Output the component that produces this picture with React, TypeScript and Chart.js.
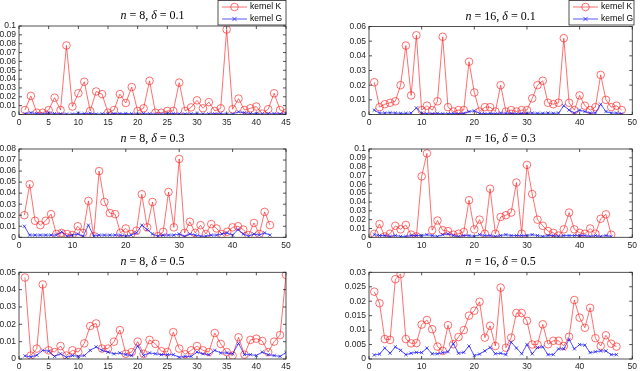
import React, { useEffect, useRef } from 'react';
import { Chart, registerables } from 'chart.js';
Chart.register(...registerables);

// ---- data ----
const kernelK_n8_d01 = [0.005,0.021,0.002,0.002,0.005,0.019,0.005,0.078,0.009,0.024,0.037,0.004,0.026,0.023,0.002,0.005,0.023,0.013,0.031,0.004,0.007,0.038,0.002,0.002,0.004,0.004,0.036,0.004,0.008,0.016,0.007,0.014,0.004,0.007,0.096,0.006,0.018,0.005,0.007,0.009,0.001,0.006,0.024,0.005,0.002];
const kernelG_n8_d01 = [0.001,0.002,0.001,0.0005,0.002,0.001,0.0008,0.0005,0.0005,0.0015,0.001,0.0015,0.0005,0.0008,0.0005,0.001,0.001,0.0012,0.0008,0.0005,0.001,0.0008,0.0005,0.0005,0.001,0.001,0.0008,0.0005,0.0008,0.001,0.0005,0.0008,0.0008,0.001,0.0005,0.0005,0.003,0.002,0.001,0.001,0.0005,0.0008,0.001,0.0008,0.0005];

const kernelK_n16_d01 = [0.022,0.005,0.007,0.008,0.009,0.020,0.047,0.013,0.054,0.003,0.006,0.003,0.009,0.053,0.005,0.002,0.003,0.003,0.036,0.015,0.002,0.005,0.005,0.002,0.020,0.002,0.003,0.002,0.003,0.003,0.011,0.020,0.023,0.008,0.007,0.008,0.052,0.008,0.003,0.013,0.006,0.003,0.005,0.027,0.010,0.005,0.006,0.003];
const kernelG_n16_d01 = [0.003,0.001,0.001,0.0012,0.001,0.0008,0.0008,0.001,0.0045,0.0008,0.0005,0.0005,0.0008,0.0005,0.0005,0.0008,0.0005,0.0008,0.002,0.0025,0.0008,0.0005,0.0008,0.0005,0.001,0.0008,0.0008,0.0005,0.0008,0.0008,0.001,0.0008,0.0008,0.001,0.0008,0.001,0.006,0.003,0.001,0.003,0.002,0.001,0.001,0.007,0.002,0.001,0.001,0.0005];

const kernelK_n8_d03 = [0.020,0.048,0.015,0.011,0.015,0.021,0.003,0.004,0.003,0.002,0.010,0.004,0.033,0.001,0.060,0.032,0.022,0.021,0.004,0.008,0.003,0.006,0.039,0.009,0.032,0.001,0.005,0.041,0.009,0.071,0.004,0.014,0.004,0.011,0.003,0.012,0.008,0.003,0.005,0.009,0.010,0.007,0.002,0.013,0.003,0.023,0.011];
const kernelG_n8_d03 = [0.010,0.002,0.002,0.002,0.002,0.002,0.002,0.005,0.001,0.002,0.003,0.001,0.011,0.001,0.002,0.002,0.002,0.002,0.002,0.001,0.002,0.004,0.011,0.007,0.003,0.001,0.002,0.002,0.002,0.003,0.001,0.003,0.002,0.001,0.001,0.002,0.002,0.003,0.004,0.002,0.007,0.003,0.001,0.003,0.002,0.004,0.002];

const kernelK_n16_d03 = [0.004,0.015,0.001,0.004,0.013,0.009,0.014,0.003,0.001,0.069,0.095,0.008,0.019,0.008,0.007,0.003,0.004,0.006,0.042,0.009,0.020,0.004,0.055,0.004,0.023,0.025,0.028,0.062,0.004,0.082,0.049,0.020,0.013,0.007,0.005,0.002,0.009,0.028,0.009,0.005,0.004,0.010,0.004,0.021,0.026,0.003];
const kernelG_n16_d03 = [0.003,0.002,0.002,0.001,0.002,0.001,0.001,0.002,0.002,0.002,0.003,0.002,0.001,0.003,0.004,0.002,0.001,0.002,0.002,0.001,0.003,0.002,0.002,0.001,0.002,0.003,0.002,0.002,0.002,0.002,0.003,0.002,0.001,0.002,0.002,0.001,0.002,0.002,0.002,0.002,0.002,0.001,0.002,0.001,0.002,0.001];

const kernelK_n8_d05 = [0.047,0.002,0.006,0.043,0.005,0.004,0.0075,0.002,0.005,0.004,0.009,0.019,0.0205,0.006,0.006,0.010,0.0167,0.003,0.004,0.010,0.003,0.011,0.0087,0.0045,0.004,0.0155,0.006,0.0027,0.005,0.0075,0.005,0.004,0.015,0.0087,0.004,0.002,0.0125,0.0025,0.011,0.0117,0.0104,0.004,0.010,0.0138,0.0485];
const kernelG_n8_d05 = [0.0018,0.0012,0.0022,0.005,0.0045,0.0015,0.003,0.001,0.002,0.0015,0.002,0.005,0.007,0.005,0.004,0.003,0.0035,0.0025,0.002,0.0075,0.002,0.0035,0.003,0.0025,0.0025,0.0025,0.001,0.0015,0.0015,0.004,0.003,0.0025,0.005,0.0035,0.0035,0.003,0.009,0.0025,0.0025,0.002,0.004,0.0025,0.002,0.0015,0.0038];

const kernelK_n16_d05 = [0.0233,0.0193,0.0069,0.0066,0.0276,0.0294,0.0069,0.0054,0.0055,0.0119,0.0135,0.0103,0.0043,0.0028,0.0117,0.0051,0.0076,0.0100,0.0150,0.0167,0.0198,0.0074,0.0115,0.0045,0.0247,0.0039,0.0074,0.0159,0.0159,0.0132,0.0050,0.0050,0.0120,0.0051,0.0063,0.0063,0.0045,0.0077,0.0204,0.0143,0.0108,0.0177,0.0072,0.0045,0.0082,0.0053,0.0043];
const kernelG_n16_d05 = [0.0014,0.0017,0.0038,0.0020,0.0042,0.0030,0.0015,0.0020,0.0023,0.0022,0.0038,0.0018,0.0018,0.0022,0.0025,0.0053,0.0020,0.0023,0.0045,0.0012,0.0017,0.0028,0.0040,0.0018,0.0020,0.0015,0.0058,0.0038,0.0018,0.0050,0.0018,0.0040,0.0042,0.0015,0.0015,0.0035,0.0035,0.0068,0.0035,0.0050,0.0048,0.0022,0.0025,0.0028,0.0028,0.0015,0.0015];

const xTicks45 = [0,5,10,15,20,25,30,35,40,45];
const xTicks50 = [0,10,20,30,40,50];
const yTicks010 = [0,0.01,0.02,0.03,0.04,0.05,0.06,0.07,0.08,0.09,0.1];
const yTicks006 = [0,0.01,0.02,0.03,0.04,0.05,0.06];
const yTicks008 = [0,0.01,0.02,0.03,0.04,0.05,0.06,0.07,0.08];
const yTicks005 = [0,0.01,0.02,0.03,0.04,0.05];
const yTicks003 = [0,0.005,0.01,0.015,0.02,0.025,0.03];

const titleN = ['8','16','8','16','8','16'];
const titleDelta = ['0.1','0.1','0.3','0.3','0.5','0.5'];
const seriesLabels = ['kernel K','kernel G'];

type Panel = {
  k: number[]; g: number[]; xTicks: number[]; yTicks: number[]; idx: number;
  cx: number; cy: number; cw: number; ch: number;
  L: number; T: number; R: number; B: number;
  legend?: { x: number; w: number };
};

const panels: Panel[] = [
  { k: kernelK_n8_d01, g: kernelG_n8_d01, xTicks: xTicks45, yTicks: yTicks010, idx: 0,
    cx: 0, cy: 0, cw: 320, ch: 128, L: 19, T: 26, R: 286, B: 114.5, legend: { x: 218, w: 68 } },
  { k: kernelK_n16_d01, g: kernelG_n16_d01, xTicks: xTicks50, yTicks: yTicks006, idx: 1,
    cx: 320, cy: 0, cw: 320, ch: 128, L: 369, T: 26.5, R: 634, B: 114.5, legend: { x: 569, w: 65 } },
  { k: kernelK_n8_d03, g: kernelG_n8_d03, xTicks: xTicks50, yTicks: yTicks008, idx: 2,
    cx: 0, cy: 125, cw: 320, ch: 126, L: 19, T: 149, R: 286, B: 237.3 },
  { k: kernelK_n16_d03, g: kernelG_n16_d03, xTicks: xTicks50, yTicks: yTicks010, idx: 3,
    cx: 320, cy: 125, cw: 320, ch: 126, L: 369, T: 149, R: 634, B: 237.3 },
  { k: kernelK_n8_d05, g: kernelG_n8_d05, xTicks: xTicks45, yTicks: yTicks005, idx: 4,
    cx: 0, cy: 250, cw: 320, ch: 121, L: 19, T: 272.3, R: 286, B: 359 },
  { k: kernelK_n16_d05, g: kernelG_n16_d05, xTicks: xTicks50, yTicks: yTicks003, idx: 5,
    cx: 320, cy: 250, cw: 320, ch: 121, L: 369, T: 272.3, R: 634, B: 359 },
];

const RED = 'rgba(255,30,30,0.8)';
const BLUE = 'rgba(20,20,255,0.9)';
const TICK_FONT = { family: '"Liberation Sans", Arial, sans-serif', size: 8.5 };
const fmt = (v: number) => String(+Number(v).toFixed(4));

function drawCircleMarker(ctx: CanvasRenderingContext2D, x: number, y: number) {
  ctx.beginPath(); ctx.arc(x, y, 3.8, 0, Math.PI * 2); ctx.stroke();
}
function drawCrossMarker(ctx: CanvasRenderingContext2D, x: number, y: number) {
  const r = 2.2;
  ctx.beginPath(); ctx.moveTo(x - r, y - r); ctx.lineTo(x + r, y + r);
  ctx.moveTo(x + r, y - r); ctx.lineTo(x - r, y + r); ctx.stroke();
}

function PanelChart({ p }: { p: Panel }) {
  const ref = useRef<HTMLCanvasElement>(null);
  useEffect(() => {
    if (!ref.current) return;
    const axisPlugin = {
      id: 'matlabAxes',
      afterDraw(chart: any) {
        const { ctx, chartArea } = chart;
        const { left, top, right, bottom } = chartArea;
        const xs = chart.scales.x, ys = chart.scales.y;
        ctx.save();
        ctx.strokeStyle = '#262626';
        ctx.lineWidth = 0.8;
        ctx.strokeRect(left, top, right - left, bottom - top);
        ctx.beginPath();
        xs.ticks.forEach((t: any) => {
          const px = xs.getPixelForValue(t.value);
          ctx.moveTo(px, bottom); ctx.lineTo(px, bottom - 3);
          ctx.moveTo(px, top); ctx.lineTo(px, top + 3);
        });
        ys.ticks.forEach((t: any) => {
          const py = ys.getPixelForValue(t.value);
          ctx.moveTo(left, py); ctx.lineTo(left + 3, py);
          ctx.moveTo(right, py); ctx.lineTo(right - 3, py);
        });
        ctx.stroke();

        // title with math-italic n and delta
        const parts: [string, boolean][] = [
          ['n', true], [' = ' + titleN[p.idx] + ', ', false], ['δ', true], [' = ' + titleDelta[p.idx], false],
        ];
        const fam = '"Liberation Serif", "DejaVu Serif", serif';
        const fontFor = (it: boolean) => (it ? 'italic ' : '') + '12px ' + fam;
        let total = 0;
        parts.forEach(([s, it]) => { ctx.font = fontFor(it); total += ctx.measureText(s).width; });
        let tx = (left + right) / 2 - total / 2;
        const ty = top - 10;
        ctx.fillStyle = '#000';
        ctx.textBaseline = 'middle';
        ctx.textAlign = 'left';
        parts.forEach(([s, it]) => { ctx.font = fontFor(it); ctx.fillText(s, tx, ty); tx += ctx.measureText(s).width; });

        if (p.legend) {
          const lx = p.legend.x - p.cx, lw = p.legend.w;
          ctx.fillStyle = '#fff';
          ctx.fillRect(lx, 0.5, lw, 24.5);
          ctx.strokeStyle = '#262626';
          ctx.lineWidth = 0.8;
          ctx.strokeRect(lx, 0.5, lw, 24.5);
          const rows = [{ y: 7, c: RED, m: drawCircleMarker }, { y: 19, c: BLUE, m: drawCrossMarker }];
          rows.forEach((r, i) => {
            ctx.strokeStyle = r.c;
            ctx.lineWidth = 0.8;
            ctx.beginPath(); ctx.moveTo(lx + 4, r.y); ctx.lineTo(lx + 29, r.y); ctx.stroke();
            r.m(ctx, lx + 16.5, r.y);
            ctx.fillStyle = '#000';
            ctx.font = '8.5px "Liberation Sans", Arial, sans-serif';
            ctx.textBaseline = 'middle';
            ctx.fillText(seriesLabels[i], lx + 32, r.y);
          });
        }
        ctx.restore();
      },
    };

    const chart = new Chart(ref.current, {
      type: 'line',
      data: {
        datasets: [
          {
            label: seriesLabels[0],
            data: p.k.map((v, i) => ({ x: i + 1, y: v })),
            borderColor: RED, borderWidth: 0.8,
            pointStyle: 'circle', pointRadius: 3.8, pointBorderWidth: 0.8,
            pointBorderColor: RED, pointBackgroundColor: 'rgba(0,0,0,0)',
            tension: 0, order: 1, clip: 0,
          },
          {
            label: seriesLabels[1],
            data: p.g.map((v, i) => ({ x: i + 1, y: v })),
            borderColor: BLUE, borderWidth: 0.8,
            pointStyle: 'crossRot', pointRadius: 2.3, pointBorderWidth: 0.8,
            pointBorderColor: BLUE, pointBackgroundColor: BLUE,
            tension: 0, order: 0, clip: 0,
          },
        ],
      },
      options: {
        responsive: false,
        animation: false,
        events: [],
        layout: { padding: { left: 0, top: p.T - p.cy, right: p.cx + p.cw - p.R, bottom: 0 } },
        plugins: { legend: { display: false }, tooltip: { enabled: false }, title: { display: false } },
        scales: {
          x: {
            type: 'linear', min: 0, max: p.xTicks[p.xTicks.length - 1],
            grid: { display: false, drawTicks: false }, border: { display: false },
            ticks: { padding: 3, font: TICK_FONT, color: '#262626', autoSkip: false, maxRotation: 0, callback: (v: any) => fmt(v) },
            afterBuildTicks: (s: any) => { s.ticks = p.xTicks.map((v) => ({ value: v })); },
            afterFit: (s: any) => { s.height = p.cy + p.ch - p.B; },
          },
          y: {
            type: 'linear', min: 0, max: p.yTicks[p.yTicks.length - 1],
            grid: { display: false, drawTicks: false }, border: { display: false },
            ticks: { padding: 3, font: TICK_FONT, color: '#262626', autoSkip: false, callback: (v: any) => fmt(v) },
            afterBuildTicks: (s: any) => { s.ticks = p.yTicks.map((v) => ({ value: v })); },
            afterFit: (s: any) => { s.width = p.L - p.cx; },
          },
        },
      },
      plugins: [axisPlugin],
    } as any);
    return () => chart.destroy();
  }, [p]);
  return (
    <canvas
      ref={ref}
      width={p.cw}
      height={p.ch}
      style={{ position: 'absolute', left: p.cx, top: p.cy, width: p.cw, height: p.ch }}
    />
  );
}

export default function App() {
  useEffect(() => {
    document.body.style.margin = '0';
    document.body.style.background = '#fff';
  }, []);
  return (
    <div style={{ position: 'relative', width: 640, height: 371, background: '#fff', overflow: 'hidden' }}>
      {panels.map((p) => (
        <PanelChart key={p.idx} p={p} />
      ))}
    </div>
  );
}
